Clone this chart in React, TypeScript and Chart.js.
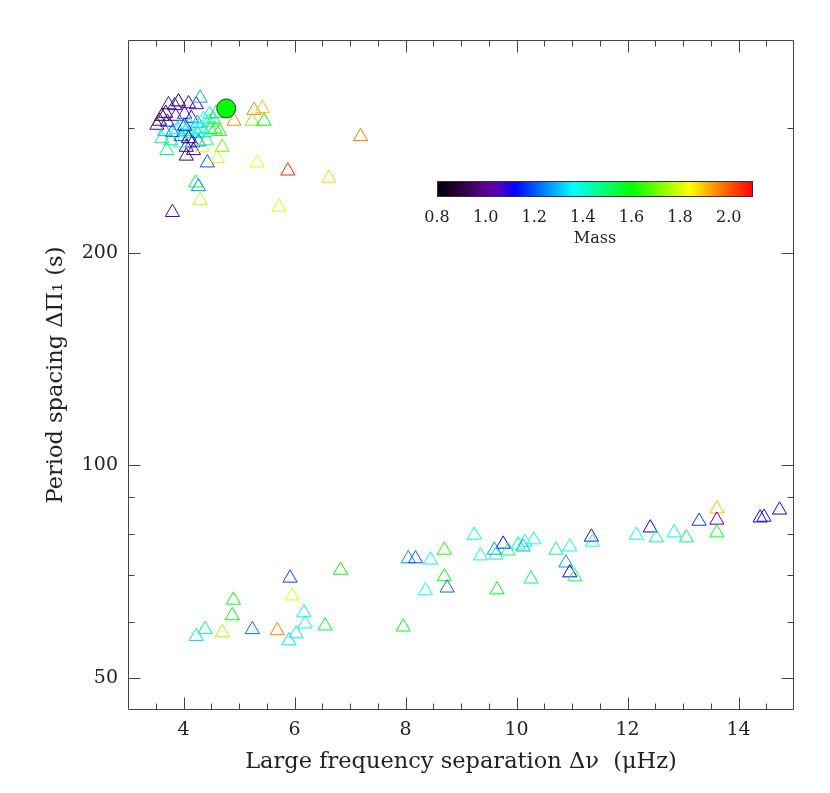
import React, { useEffect, useRef } from 'react';
import { Chart, registerables } from 'chart.js';

Chart.register(...registerables);

// Helium-core-burning (clump) stars: large frequency separation (μHz), period spacing (s), mass
const clumpDnu = [
  3.73, 3.91, 4.09, 4.23, 4.30, 3.68, 3.61, 3.52, 3.71, 3.86,
  4.02, 4.14, 3.96, 4.11, 4.25, 4.36, 4.45, 4.54, 4.48, 4.57,
  3.80, 3.66, 3.61, 3.77, 3.96, 4.11, 4.25, 4.38, 4.05, 4.16,
  4.27, 3.95, 4.18, 4.34, 4.70, 4.05, 3.70, 4.43, 4.61, 4.59,
  4.65, 4.91, 5.27, 5.42, 5.24, 5.45, 5.33, 5.88, 6.62, 5.72,
  7.19, 3.80, 4.22, 4.27, 4.30, 3.84, 3.57, 3.89, 4.04, 4.20,
  4.32, 4.47, 4.09, 4.41, 4.02,
];
const clumpDpi = [
  324, 327, 325, 324, 331, 315, 312, 303, 306, 312,
  314, 310, 303, 303, 305, 309, 306, 309, 299, 299,
  296, 297, 290, 288, 292, 295, 295, 296, 282, 286,
  287, 286, 279, 282, 282, 274, 279, 268, 272, 315,
  297, 307, 318, 320, 307, 307, 268, 261, 255, 232,
  292, 228, 251, 248, 237, 323, 307, 299, 297, 299,
  300, 314, 290, 288, 302,
];
const clumpMass = [
  1.15, 0.85, 1.08, 1.05, 1.28, 0.92, 0.86, 0.95, 1.00, 1.02,
  1.06, 1.15, 1.35, 1.40, 1.28, 1.36, 1.44, 1.50, 1.56, 1.62,
  1.20, 1.30, 1.46, 1.50, 1.18, 1.35, 1.40, 1.42, 0.95, 1.12,
  1.22, 1.36, 1.06, 1.80, 1.70, 0.96, 1.48, 1.20, 1.80, 1.60,
  1.62, 1.95, 1.96, 1.90, 1.72, 1.60, 1.82, 2.06, 1.88, 1.80,
  1.97, 1.08, 1.55, 1.25, 1.78, 1.00, 0.98, 1.38, 1.33, 1.42,
  1.38, 1.40, 0.90, 1.45, 1.15,
];

// Red-giant-branch stars
const rgbDnu = [
  6.83, 5.92, 5.96, 4.90, 4.88, 6.17, 6.19, 6.55, 5.24, 5.69,
  4.39, 4.70, 6.03, 4.23, 5.90, 7.96, 9.24, 8.70, 8.05, 8.18,
  8.45, 9.35, 9.60, 9.76, 9.63, 9.85, 10.03, 10.15, 10.12, 10.31,
  10.71, 10.96, 10.89, 11.35, 11.37, 8.70, 8.75, 8.36, 9.65, 10.26,
  10.96, 11.05, 12.16, 12.41, 12.52, 12.84, 13.06, 13.29, 13.61, 13.61,
  13.61, 14.39, 14.46, 14.74,
];
const rgbDpi = [
  71.0, 69.2, 65.3, 64.4, 61.2, 61.8, 59.6, 59.2, 58.5, 58.3,
  58.5, 57.9, 57.7, 57.2, 56.4, 59.0, 79.6, 75.8, 73.7, 73.7,
  73.4, 74.4, 75.8, 77.3, 74.6, 75.6, 77.1, 77.8, 76.6, 78.4,
  75.8, 76.6, 72.7, 79.1, 77.8, 69.5, 67.0, 66.4, 66.6, 69.0,
  70.4, 69.5, 79.6, 81.5, 78.9, 80.2, 78.9, 83.3, 86.7, 83.6,
  80.2, 84.2, 84.4, 86.4,
];
const rgbMass = [
  1.60, 1.18, 1.80, 1.58, 1.60, 1.35, 1.36, 1.55, 1.22, 1.96,
  1.48, 1.75, 1.35, 1.33, 1.33, 1.58, 1.40, 1.62, 1.25, 1.20,
  1.35, 1.38, 1.26, 1.13, 1.45, 1.48, 1.44, 1.38, 1.28, 1.36,
  1.45, 1.38, 1.26, 1.08, 1.38, 1.62, 1.22, 1.36, 1.58, 1.50,
  1.12, 1.50, 1.38, 1.12, 1.46, 1.38, 1.50, 1.18, 1.90, 1.05,
  1.58, 1.12, 1.08, 1.10,
];

// Highlighted star
const starDnu = [4.77];
const starDpi = [320];

// Axes
const xMin = 3;
const xMax = 15;
const yMin = 45;
const yMax = 400;
const xMajorTicks = [4, 6, 8, 10, 12, 14];
const xMinorTicks = [3.5, 4.5, 5, 5.5, 6.5, 7, 7.5, 8.5, 9, 9.5, 10.5, 11, 11.5, 12.5, 13, 13.5, 14.5];
const yMajorTicks = [50, 100, 200];
const yMinorTicks = [60, 70, 80, 90, 300];

// Colour bar
const massMin = 0.8;
const massMax = 2.1;
const colorbarTicks = [0.8, 1.0, 1.2, 1.4, 1.6, 1.8, 2.0];
const cmapMass = [0.8, 0.9, 1.0, 1.06, 1.12, 1.24, 1.36, 1.48, 1.6, 1.72, 1.84, 1.96, 2.1];
const cmapColor = [
  [0, 0, 0], [42, 0, 64], [90, 0, 144], [80, 0, 192], [0, 0, 255], [0, 128, 255],
  [0, 255, 255], [0, 255, 128], [0, 255, 0], [128, 255, 0], [255, 255, 0], [255, 128, 0], [255, 0, 0],
];

function massColor(m: number): string {
  if (m <= cmapMass[0]) return `rgb(${cmapColor[0].join(',')})`;
  for (let i = 1; i < cmapMass.length; i++) {
    if (m <= cmapMass[i]) {
      const t = (m - cmapMass[i - 1]) / (cmapMass[i] - cmapMass[i - 1]);
      const a = cmapColor[i - 1];
      const b = cmapColor[i];
      const c = a.map((v, k) => Math.round(v + (b[k] - v) * t));
      return `rgb(${c.join(',')})`;
    }
  }
  return `rgb(${cmapColor[cmapColor.length - 1].join(',')})`;
}

const FONT = "'DejaVu Serif', serif";
const TEXT = '#222';
const AXIS = '#444';

const framePlugin = {
  id: 'frameTicksColorbar',
  afterDatasetsDraw(chart: any) {
    const { ctx, chartArea: a, scales } = chart;
    const xs = scales.x;
    const ys = scales.y;
    const L = Math.round(a.left) + 0.5;
    const R = Math.round(a.right) - 0.5;
    const T = Math.round(a.top) + 0.5;
    const B = Math.round(a.bottom) - 0.5;
    ctx.save();
    ctx.strokeStyle = AXIS;
    ctx.lineWidth = 1;
    ctx.beginPath();
    ctx.rect(L, T, R - L, B - T);
    ctx.stroke();

    const major = 12;
    const minor = 6;
    ctx.beginPath();
    const xt = (v: number, len: number) => {
      const p = Math.round(xs.getPixelForValue(v)) + 0.5;
      ctx.moveTo(p, B); ctx.lineTo(p, B - len);
      ctx.moveTo(p, T); ctx.lineTo(p, T + len);
    };
    const yt = (v: number, len: number) => {
      const p = Math.round(ys.getPixelForValue(v)) + 0.5;
      ctx.moveTo(L, p); ctx.lineTo(L + len, p);
      ctx.moveTo(R, p); ctx.lineTo(R - len, p);
    };
    xMajorTicks.forEach((v) => xt(v, major));
    xMinorTicks.forEach((v) => xt(v, minor));
    yMajorTicks.forEach((v) => yt(v, major));
    yMinorTicks.forEach((v) => yt(v, minor));
    ctx.stroke();

    // colour bar
    const cb = { left: 437, right: 753, top: 181, bottom: 197 };
    const grad = ctx.createLinearGradient(cb.left, 0, cb.right, 0);
    cmapMass.forEach((m, i) => {
      grad.addColorStop((m - massMin) / (massMax - massMin), `rgb(${cmapColor[i].join(',')})`);
    });
    ctx.fillStyle = grad;
    ctx.fillRect(cb.left, cb.top, cb.right - cb.left, cb.bottom - cb.top);
    ctx.strokeStyle = '#333';
    ctx.strokeRect(cb.left + 0.5, cb.top + 0.5, cb.right - cb.left - 1, cb.bottom - cb.top - 1);
    ctx.fillStyle = TEXT;
    ctx.font = `16px ${FONT}`;
    ctx.textAlign = 'center';
    ctx.textBaseline = 'middle';
    colorbarTicks.forEach((t) => {
      const px = cb.left + ((t - massMin) / (massMax - massMin)) * (cb.right - cb.left);
      ctx.fillText(t.toFixed(1), px, 218);
    });
    ctx.fillText('Mass', (cb.left + cb.right) / 2, 239);
    ctx.restore();
  },
};

export default function App() {
  const ref = useRef<HTMLCanvasElement | null>(null);
  useEffect(() => {
    if (!ref.current) return;
    const clump = clumpDnu.map((x, i) => ({ x, y: clumpDpi[i] }));
    const rgb = rgbDnu.map((x, i) => ({ x, y: rgbDpi[i] }));
    const star = starDnu.map((x, i) => ({ x, y: starDpi[i] }));
    const chart = new Chart(ref.current, {
      type: 'scatter',
      data: {
        datasets: [
          {
            label: 'star',
            data: star,
            pointStyle: 'circle',
            pointRadius: 9.5,
            pointBackgroundColor: '#00ff00',
            pointBorderColor: '#333',
            pointBorderWidth: 1,
          },
          {
            label: 'clump',
            data: clump,
            pointStyle: 'triangle',
            pointRadius: 8.2,
            pointBackgroundColor: 'rgba(0,0,0,0)',
            pointBorderColor: clumpMass.map(massColor),
            pointBorderWidth: 1,
          },
          {
            label: 'rgb',
            data: rgb,
            pointStyle: 'triangle',
            pointRadius: 8.2,
            pointBackgroundColor: 'rgba(0,0,0,0)',
            pointBorderColor: rgbMass.map(massColor),
            pointBorderWidth: 1,
          },
        ],
      },
      options: {
        animation: false,
        responsive: false,
        devicePixelRatio: 1,
        layout: { padding: { left: 0, top: 40, right: 36, bottom: 0 } },
        plugins: { legend: { display: false }, tooltip: { enabled: false } },
        scales: {
          x: {
            type: 'linear',
            min: xMin,
            max: xMax,
            grid: { display: false, drawTicks: false },
            border: { display: false },
            afterBuildTicks: (s: any) => { s.ticks = xMajorTicks.map((v) => ({ value: v })); },
            afterFit: (s: any) => { s.height = 83; },
            ticks: {
              color: TEXT,
              font: { family: FONT, size: 19 },
              padding: 9,
              maxRotation: 0,
              callback: (v: any) => String(v),
            },
            title: {
              display: true,
              text: 'Large frequency separation Δν  (μHz)',
              color: TEXT,
              font: { family: FONT, size: 22.5 },
              padding: { top: 0, bottom: 17 },
            },
          },
          y: {
            type: 'logarithmic',
            min: yMin,
            max: yMax,
            grid: { display: false, drawTicks: false },
            border: { display: false },
            afterBuildTicks: (s: any) => { s.ticks = yMajorTicks.map((v) => ({ value: v })); },
            afterFit: (s: any) => { s.width = 128; },
            ticks: {
              color: TEXT,
              font: { family: FONT, size: 19 },
              padding: 10,
              callback: (v: any) => String(v),
            },
            title: {
              display: true,
              text: 'Period spacing ΔΠ₁ (s)',
              color: TEXT,
              font: { family: FONT, size: 22.5 },
              padding: { top: 43, bottom: 0 },
            },
          },
        },
      },
      plugins: [framePlugin],
    });
    return () => chart.destroy();
  }, []);
  return (
    <div style={{ position: 'fixed', left: 0, top: 0, width: 830, height: 793, background: '#fff' }}>
      <canvas ref={ref} width={830} height={793} style={{ width: 830, height: 793 }} />
    </div>
  );
}
